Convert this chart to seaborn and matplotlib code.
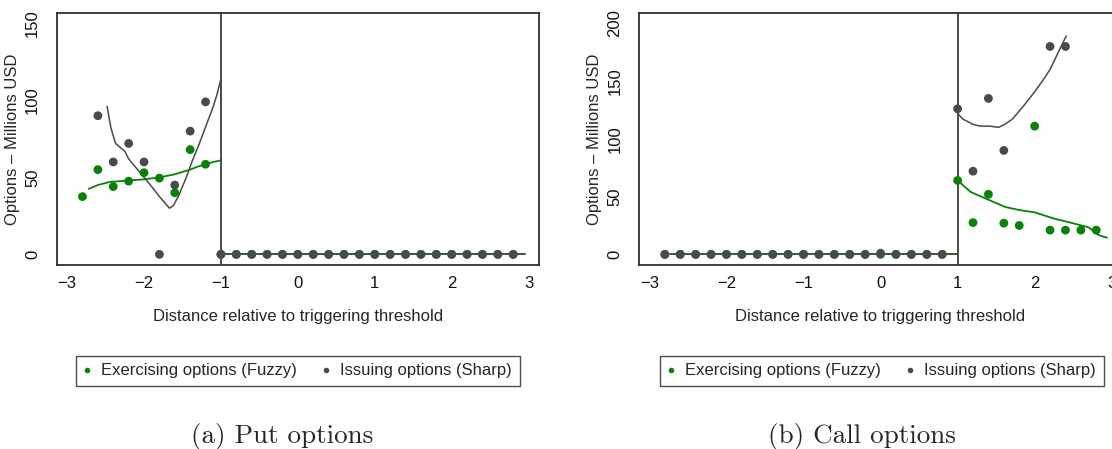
import numpy as np
import pandas as pd
import matplotlib
matplotlib.use("Agg")
import matplotlib.pyplot as plt
from matplotlib.lines import Line2D
import seaborn as sns

# ---------------- data ----------------
# Panel (a) Put options
put_fuzzy_x = [-2.8, -2.6, -2.4, -2.2, -2.0, -1.8, -1.6, -1.4, -1.2,
               -1.0, -0.8, -0.6, -0.4, -0.2, 0.0, 0.2, 0.4, 0.6, 0.8,
               1.0, 1.2, 1.4, 1.6, 1.8, 2.0, 2.2, 2.4, 2.6, 2.8]
put_fuzzy_y = [37.5, 55, 44, 47.5, 53, 49.5, 40, 68, 58.5,
               0, 0, 0, 0, 0, 0, 0, 0, 0, 0,
               0, 0, 0, 0, 0, 0, 0, 0, 0, 0]
put_sharp_x = [-2.6, -2.4, -2.2, -2.0, -1.8, -1.6, -1.4, -1.2,
               -1.0, -0.8, -0.6, -0.4, -0.2, 0.0, 0.2, 0.4, 0.6, 0.8,
               1.0, 1.2, 1.4, 1.6, 1.8, 2.0, 2.2, 2.4, 2.6, 2.8]
put_sharp_y = [90, 60, 72, 60, 0, 45, 80, 99,
               0, 0, 0, 0, 0, 0, 0, 0, 0, 0,
               0, 0, 0, 0, 0, 0, 0, 0, 0, 0]
# fitted curves (panel a)
put_fuzzy_fit_left_x = [-2.72, -2.6, -2.45, -2.3, -2.2, -2.0, -1.8, -1.6, -1.5, -1.4, -1.3, -1.2, -1.1, -1.0]
put_fuzzy_fit_left_y = [42.5, 45, 47, 47.6, 48, 48.7, 50, 52, 53.5, 55, 57, 58.4, 60, 61]
put_fuzzy_fit_right_x = [-1.0, 2.95]
put_fuzzy_fit_right_y = [0, 0]
put_sharp_fit_x = [-2.48, -2.43, -2.37, -2.3, -2.25, -2.2, -2.1, -2.0, -1.9, -1.8, -1.72, -1.67, -1.62,
                   -1.55, -1.45, -1.37, -1.28, -1.19, -1.1, -1.05, -1.0]
put_sharp_fit_y = [96, 82, 72, 69, 67, 62, 56, 50, 44, 37.5, 33, 30, 31.5,
                   38, 50, 61, 72, 84, 96, 104, 114]

# Panel (b) Call options
call_fuzzy_x = [-2.8, -2.6, -2.4, -2.2, -2.0, -1.8, -1.6, -1.4, -1.2, -1.0,
                -0.8, -0.6, -0.4, -0.2, 0.0, 0.2, 0.4, 0.6, 0.8,
                1.0, 1.2, 1.4, 1.6, 1.8, 2.0, 2.2, 2.4, 2.6, 2.8]
call_fuzzy_y = [0, 0, 0, 0, 0, 0, 0, 0, 0, 0,
                0, 0, 0, 0, 0, 0, 0, 0, 0,
                64, 27.5, 52, 27, 25, 111, 21, 21, 21, 21]
call_sharp_x = [-2.8, -2.6, -2.4, -2.2, -2.0, -1.8, -1.6, -1.4, -1.2, -1.0,
                -0.8, -0.6, -0.4, -0.2, 0.0, 0.2, 0.4, 0.6, 0.8,
                1.0, 1.2, 1.4, 1.6, 2.2, 2.4]
call_sharp_y = [0, 0, 0, 0, 0, 0, 0, 0, 0, 0,
                0, 0, 0, 0, 1, 0, 0, 0, 0,
                126, 72, 135, 90, 180, 180]
call_fuzzy_fit_left_x = [-2.73, 1.0]
call_fuzzy_fit_left_y = [0, 0]
call_fuzzy_fit_right_x = [1.0, 1.17, 1.39, 1.62, 1.8, 2.0, 2.25, 2.47, 2.7, 2.83, 2.94]
call_fuzzy_fit_right_y = [64, 54, 47.6, 41, 38.4, 36.4, 31, 27.4, 23.4, 16.7, 14.4]
call_sharp_fit_x = [1.0, 1.07, 1.13, 1.2, 1.3, 1.42, 1.53, 1.6, 1.71, 1.85, 1.98, 2.1, 2.2, 2.3, 2.41]
call_sharp_fit_y = [122, 117, 115, 112.5, 111, 111, 110, 112, 117, 128, 139, 150, 160, 174, 189]

cutoff_put = -1.0
cutoff_call = 1.0

legend_labels = ["Exercising options (Fuzzy)", "Issuing options (Sharp)"]
captions = ["(a) Put options", "(b) Call options"]
xlabel = "Distance relative to triggering threshold"
ylabel = "Options \u2013 Millions USD"
xticks = [-3, -2, -1, 0, 1, 2, 3]
put_yticks = [0, 50, 100, 150]
call_yticks = [0, 50, 100, 150, 200]

# ---------------- style ----------------
sns.set_theme(style="white")
plt.rcParams["font.family"] = ["Liberation Sans", "DejaVu Sans"]
plt.rcParams["axes.unicode_minus"] = True

GREEN = "#078207"
GRAY = "#4a4a4a"
SPINE = "#303030"
FS = 12

W, H = 1112, 449
fig = plt.figure(figsize=(W / 100, H / 100), dpi=100)

def px_axes(left, top, right, bottom):
    return fig.add_axes([left / W, 1 - bottom / H, (right - left) / W, (bottom - top) / H])

ax1 = px_axes(56.8, 13.3, 538.9, 265)
ax2 = px_axes(639.1, 13.3, 1122.0, 265)

def draw_panel(ax, fx, fy, sx, sy, fits_green, fits_gray, cutoff, yticks, ylim):
    # fitted lines
    for (lx, ly) in fits_green:
        sns.lineplot(x=lx, y=ly, ax=ax, color=GREEN, lw=1.3, sort=False, estimator=None, zorder=2)
    for (lx, ly) in fits_gray:
        sns.lineplot(x=lx, y=ly, ax=ax, color=GRAY, lw=1.1, sort=False, estimator=None, zorder=2)
    # scatter points
    sns.scatterplot(x=fx, y=fy, ax=ax, color=GREEN, s=40, edgecolor="none", zorder=3)
    sns.scatterplot(x=sx, y=sy, ax=ax, color=GRAY, s=40, edgecolor="none", zorder=4)
    ax.axvline(cutoff, color=GRAY, lw=1.4, zorder=1)
    ax.set_xlim(-3.134, 3.134)
    ax.set_ylim(*ylim)
    ax.set_xticks(xticks)
    ax.set_xticklabels([("\u2212" + str(abs(t))) if t < 0 else str(t) for t in xticks])
    ax.set_yticks(yticks)
    ax.set_yticklabels([str(t) for t in yticks], rotation=90, va="center")
    ax.tick_params(axis="both", direction="out", length=5, width=1.0, color=SPINE,
                   labelsize=FS, labelcolor="#111111")
    ax.tick_params(axis="x", pad=3)
    ax.tick_params(axis="y", pad=7)
    for sp in ax.spines.values():
        sp.set_color(SPINE)
        sp.set_linewidth(1.3)
    ax.set_xlabel(xlabel, fontsize=FS, labelpad=13)
    ax.set_ylabel(ylabel, fontsize=FS, labelpad=4)
    ax.grid(False)

draw_panel(ax1, put_fuzzy_x, put_fuzzy_y, put_sharp_x, put_sharp_y,
           [(put_fuzzy_fit_left_x, put_fuzzy_fit_left_y), (put_fuzzy_fit_right_x, put_fuzzy_fit_right_y)],
           [(put_sharp_fit_x, put_sharp_fit_y), (put_fuzzy_fit_right_x, put_fuzzy_fit_right_y)],
           cutoff_put, put_yticks, (-6.9, 156.5))
draw_panel(ax2, call_fuzzy_x, call_fuzzy_y, call_sharp_x, call_sharp_y,
           [(call_fuzzy_fit_left_x, call_fuzzy_fit_left_y), (call_fuzzy_fit_right_x, call_fuzzy_fit_right_y)],
           [(call_sharp_fit_x, call_sharp_fit_y), (call_fuzzy_fit_left_x, call_fuzzy_fit_left_y)],
           cutoff_call, call_yticks, (-9.2, 208.7))

# legends and captions
handles = [Line2D([], [], ls="none", marker="o", ms=4.0, color=GREEN, mec="none"),
           Line2D([], [], ls="none", marker="o", ms=4.0, color=GRAY, mec="none")]
for cx in [298.0, 882.0]:
    fig.legend(handles, legend_labels, ncol=2, loc="center",
               bbox_to_anchor=(cx / W, 1 - 371 / H), frameon=True, fancybox=False,
               edgecolor="#222222", fontsize=FS, handletextpad=0.66, columnspacing=1.6,
               handlelength=0.36, borderpad=0.45, borderaxespad=0)
for cx, cap in zip([282, 862], captions):
    fig.text(cx / W, 1 - 436 / H, cap, ha="center", va="center", fontsize=19.5,
             family=["cmr10", "DejaVu Serif"])

for leg in fig.legends:
    leg.get_frame().set_linewidth(1.0)

fig.savefig("out.png", dpi=100)
